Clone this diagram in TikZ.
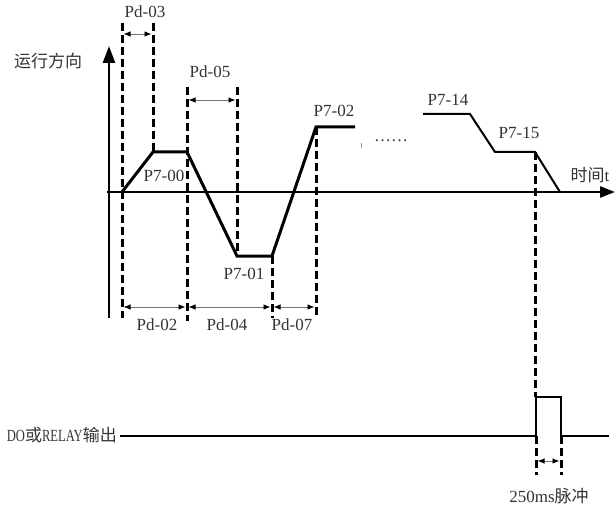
\documentclass[tikz,border=0pt]{standalone}
\usepackage{fontspec}
\usepackage{graphicx}
\setmainfont{Liberation Serif}
\newfontfamily\cjk{Noto Sans CJK SC}
\newcommand{\nar}[1]{\scalebox{0.74}[1]{#1}}
\usetikzlibrary{arrows.meta}
\begin{document}
\begin{tikzpicture}[x=1pt,y=-1pt,
  dline/.style={line width=3pt, dash pattern=on 8pt off 4pt},
  curve/.style={line width=3pt, line join=miter},
  axis/.style={line width=2.5pt},
  sig/.style={line width=2.5pt},
  dim/.style={line width=0.8pt, draw=black!55, {Latex[length=7pt,width=5.5pt,black]}-{Latex[length=7pt,width=5.5pt,black]}},
  lbl/.style={font=\fontsize{17}{17}\selectfont, inner sep=0pt, text=black!80}]
\useasboundingbox (0,0) rectangle (616,508);
% axes
\coordinate (vb) at (109,318);
\coordinate (vt) at (109,46);
\coordinate (hl) at (107,192);
\coordinate (hr) at (615,192);
\draw[axis,-{Triangle[length=17pt,width=12pt]}] (vb) -- (vt);
\draw[axis,-{Triangle[length=15pt,width=11pt]}] (hl) -- (hr);
% curve points
\coordinate (c0) at (122,192);
\coordinate (c1) at (153,152);
\coordinate (c2) at (187,152);
\coordinate (c3) at (237,256);
\coordinate (c4) at (272,256);
\coordinate (c5) at (316,127);
\coordinate (c6) at (355,127);
\coordinate (d0) at (423,114);
\coordinate (d1) at (470,114);
\coordinate (d2) at (495,152);
\coordinate (d3) at (535,152);
\coordinate (d4) at (560,192);
\draw[curve] (c0) -- (c1) -- (c2) -- (c3) -- (c4) -- (c5) -- (c6);
\draw[line width=2pt] (d0) -- (d1) -- (d2) -- (d3) -- (d4);
% dashed lines
\coordinate (t1) at (122,23);  \coordinate (b1) at (122,318);
\coordinate (t2) at (153,23);
\coordinate (t3) at (187,87);  \coordinate (b3) at (187,321);
\coordinate (t4) at (237,87);
\coordinate (b5) at (272,318);
\coordinate (b6) at (316,318);
\coordinate (b7) at (535,397);
\draw[dline] (t1) -- (b1);
\draw[dline] (t2) -- (c1);
\draw[dline] (t3) -- (b3);
\draw[dline] (t4) -- (c3);
\draw[dline] (c4) -- (b5);
\draw[dline] (c5) -- (b6);
\draw[dline] (d3) -- (b7);
% dimension arrows
\coordinate (a1) at (123.5,34); \coordinate (a2) at (151.5,34);
\coordinate (a3) at (188.5,100); \coordinate (a4) at (235.5,100);
\coordinate (e1) at (123.5,307); \coordinate (e2) at (185.5,307);
\coordinate (e2b) at (188.5,307);
\coordinate (e3) at (270.5,307); \coordinate (e3b) at (273.5,307);
\coordinate (e4) at (314.5,307);
\draw[dim] (a1) -- (a2);
\draw[dim] (a3) -- (a4);
\draw[dim] (e1) -- (e2);
\draw[dim] (e2b) -- (e3);
\draw[dim] (e3b) -- (e4);
% labels
\node[lbl] (pd03) at (145,12) {Pd-03};
\node[lbl] (pd05) at (210,72) {Pd-05};
\node[lbl] (dir) at (48,61) {\cjk 运行方向};
\node[lbl] (p700) at (164,176) {P7-00};
\node[lbl] (p701) at (244,274) {P7-01};
\node[lbl] (p702) at (334,111) {P7-02};
\node[lbl] (p714) at (448,100) {P7-14};
\node[lbl] (p715) at (519,133) {P7-15};
\node[lbl] (time) at (590,175) {{\cjk 时间}t};
\node[lbl] (dots) at (391,141) {……};
\draw[black!40, line width=0.8pt] (361,143) -- (361,148);
\node[lbl] (pd02) at (157,325) {Pd-02};
\node[lbl] (pd04) at (227,325) {Pd-04};
\node[lbl] (pd07) at (292,325) {Pd-07};
% output signal
\node[lbl, anchor=east] (out) at (117,435) {\nar{DO}{\cjk 或}\nar{RELAY}{\cjk 输出}};
\coordinate (s0) at (120,436);
\coordinate (s1) at (536,436);
\coordinate (s2) at (536,397);
\coordinate (s3) at (561,397);
\coordinate (s4) at (561,436);
\coordinate (s5) at (609,436);
\draw[sig] (s0) -- (s1) -- (s2) -- (s3) -- (s4) -- (s5);
\coordinate (g1) at (536,475); \coordinate (g2) at (561,475);
\draw[dline] (s1) -- (g1);
\draw[dline] (s4) -- (g2);
\coordinate (f1) at (537.5,461); \coordinate (f2) at (559.5,461);
\draw[dim] (f1) -- (f2);
\node[lbl] (pulse) at (549,496) {250ms{\cjk 脉冲}};
\end{tikzpicture}
\end{document}
